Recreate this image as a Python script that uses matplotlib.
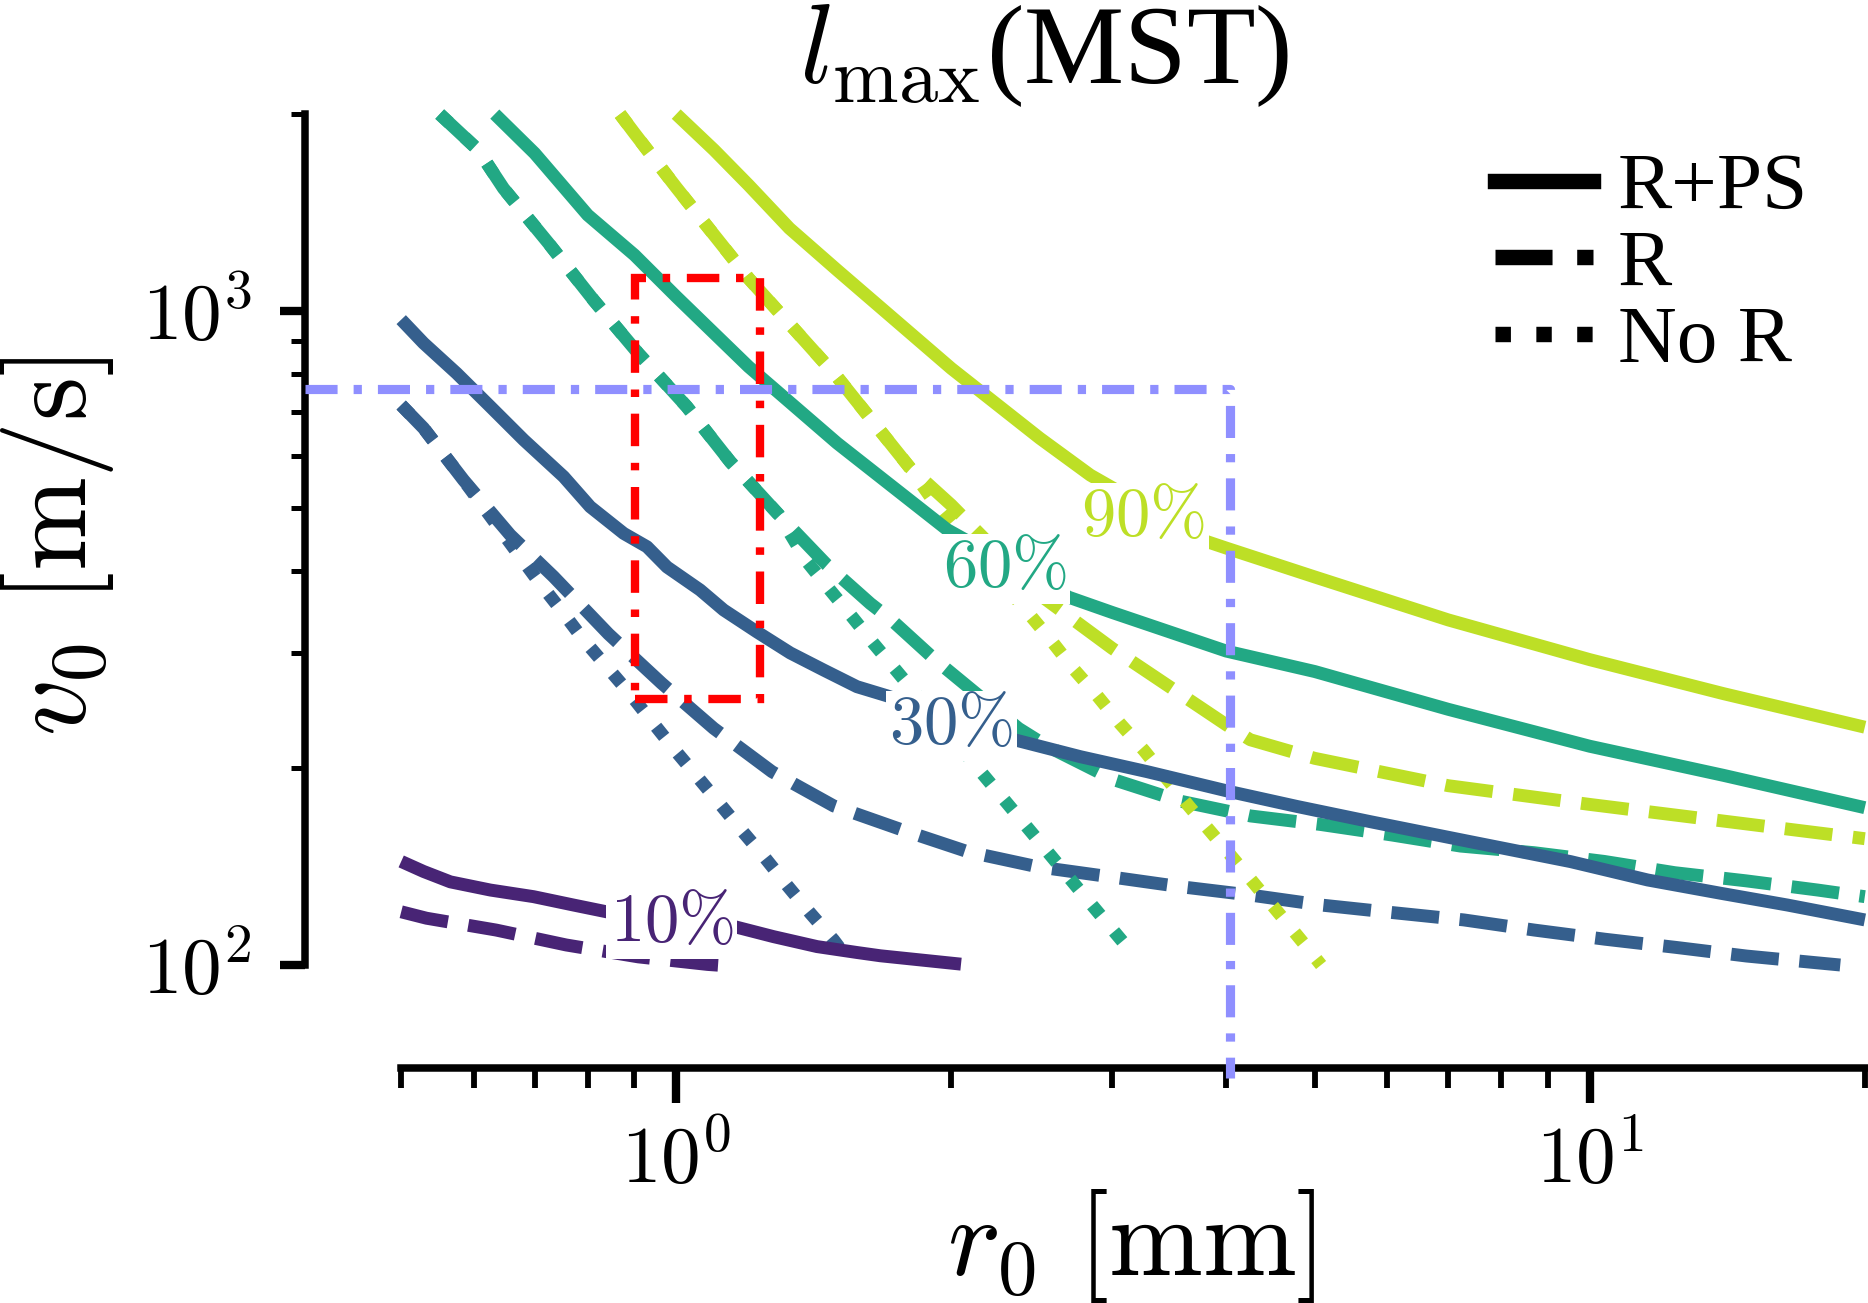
import numpy as np
import matplotlib
matplotlib.use('Agg')
import matplotlib.pyplot as plt
from matplotlib.lines import Line2D
from matplotlib.patches import Rectangle
from matplotlib.ticker import LogLocator, FuncFormatter, NullFormatter

plt.rcParams['mathtext.fontset'] = 'cm'
plt.rcParams['font.family'] = ['Liberation Serif', 'DejaVu Serif']

# ---------------- data (r0 in mm, v0 in m/s) ----------------
levels = ['10%', '30%', '60%', '90%']
level_values = [0.1, 0.3, 0.6, 0.9]

# 10 %
r10_rps = [0.5, 0.529, 0.566, 0.626, 0.698, 0.772, 0.839, 1.16, 1.278, 1.426, 1.577, 1.673, 2.05]
v10_rps = [144, 139, 134, 130.2, 127.2, 123.5, 120.6, 114.4, 110.5, 106.7, 104.5, 103.3, 100.3]
r10_r = [0.5, 0.533, 0.635, 0.758, 0.909, 1.082, 1.15]
v10_r = [120.6, 117.9, 113.1, 107.3, 102.9, 100.2, 99.6]
r10_nor = []
v10_nor = []

# 30 %
r30_rps = [0.5, 0.529, 0.575, 0.626, 0.681, 0.753, 0.805, 0.876, 0.929, 0.977, 1.062, 1.127,
           1.226, 1.333, 1.45, 1.577, 1.701, 2.351, 2.77, 3.278, 4.045, 4.785, 5.755, 7.41,
           9.53, 11.57, 13.92, 16.46, 20]
v30_rps = [970, 893, 803, 714, 635, 558, 502, 457, 436, 406, 374.5, 349,
           323, 300, 282.5, 266.4, 258, 220.8, 208.2, 197.5, 184, 174.7, 165.6, 154.3,
           143.9, 134.9, 128.7, 123.5, 117.2]
r30_r = [0.5, 0.529, 0.585, 0.658, 0.734, 0.843, 0.964, 1.099, 1.273, 1.487, 1.767, 2.085,
         2.487, 2.975, 3.556, 4.253, 5.083, 6.106, 7.28, 8.69, 10.39, 12.42, 14.85, 17.7, 18.8]
v30_r = [718, 662, 551.5, 454.6, 392.5, 320.8, 269.6, 230.1, 197.5, 175.1, 160.9, 149,
         141.3, 136.5, 131.8, 127.9, 123.5, 120.2, 117.2, 113.1, 109.5, 106.4, 103.2, 100.8, 100]
r30_nor = [0.5, 0.529, 0.585, 0.707, 0.748, 0.791, 0.838, 0.889, 0.941, 0.995, 1.053, 1.115,
           1.18, 1.252, 1.324, 1.402, 1.487, 1.557]
v30_nor = [718, 662, 551.5, 385.6, 349, 314.8, 286.6, 260.3, 235.5, 213.7, 194.5, 176.7,
           160.5, 145.6, 132.1, 120, 109.2, 100.3]

# 60 %
r60_rps = [0.633, 0.7, 0.8, 0.9, 1.0, 1.2, 1.5, 1.98, 2.69, 3.0, 4.0, 5.0, 7.0, 10, 14, 20]
v60_rps = [2000, 1742, 1402, 1218, 1052, 822, 628, 463, 365, 346, 302, 281, 246, 216, 195, 174]
r60_r = [0.551, 0.607, 0.647, 0.725, 0.812, 0.909, 1.027, 1.146, 1.295, 1.462, 1.631, 1.72,
         1.92, 2.37, 2.547, 3.013, 3.565, 4.253, 5.075, 6.08, 7.22, 8.69, 10.37, 12.39,
         14.82, 17.76, 20]
v60_r = [2000, 1763, 1540, 1269, 1039, 861, 714, 588, 488, 409, 357, 337,
         293, 230, 216, 192, 178, 169, 164, 158, 152, 148.5, 144, 138.4,
         134.5, 130.2, 127.2]
r60_nor = [0.551, 0.607, 0.647, 0.725, 0.812, 0.909, 1.027, 1.146, 1.295, 1.39, 1.472, 1.557,
           1.645, 1.745, 2.198, 2.467, 2.765, 3.108, 3.15]
v60_nor = [2000, 1763, 1540, 1269, 1039, 861, 714, 588, 488, 414, 375, 341,
           310, 281, 191, 157.5, 130, 107, 104.7]

# 90 %
r90_rps = [1.0, 1.1, 1.2, 1.33, 1.5, 2.0, 2.5, 2.84, 3.81, 4.0, 5.0, 7.0, 10, 14, 20]
v90_rps = [2000, 1763, 1558, 1338, 1155, 817, 639, 561, 444, 434, 392, 337, 293, 260, 231]
r90_r = [0.868, 0.9, 1.0, 1.2, 1.5, 1.8, 2.0, 2.5, 3.0, 4.0, 4.25, 5, 7, 10, 14, 20]
v90_r = [2000, 1870, 1545, 1122, 793, 577, 505, 368, 305, 233, 221, 207, 188, 176, 166, 156]
r90_nor = [0.868, 0.9, 1.0, 1.2, 1.5, 1.8, 1.92, 2.43, 2.58, 2.72, 2.89, 3.06, 3.25, 3.64,
           4.08, 4.59, 4.86, 5.08]
v90_nor = [2000, 1870, 1545, 1122, 793, 577, 508, 345, 312, 284, 258, 234, 213, 175,
           145, 119, 108, 100]

# contour label positions (center, baseline)
label_r = [0.989, 2.0, 2.288, 3.247]
label_v = [109, 218.8, 379.8, 454.6]

# reference point and highlighted region
r_ref, v_ref = 4.04, 760
rect_r = [0.901, 1.234]
rect_v = [255, 1124]

legend_labels = ['R+PS', 'R', 'No R']

# ---------------- figure ----------------
W, H, DPI = 1868, 1303, 300
fig = plt.figure(figsize=(W / DPI, H / DPI), dpi=DPI)
ax_l, ax_r, ax_t, ax_b = 401.2, 1864.8, 114.1, 965.0
ax = fig.add_axes([ax_l / W, 1 - ax_b / H, (ax_r - ax_l) / W, (ax_b - ax_t) / H])
ax.set_xscale('log')
ax.set_yscale('log')
ax.set_xlim(0.5, 20)
ax.set_ylim(100, 2000)

cmap = plt.get_cmap('viridis')
colors = [cmap(v) for v in level_values]

series = {
    'R+PS': [(r10_rps, v10_rps), (r30_rps, v30_rps), (r60_rps, v60_rps), (r90_rps, v90_rps)],
    'R': [(r10_r, v10_r), (r30_r, v30_r), (r60_r, v60_r), (r90_r, v90_r)],
    'No R': [(r10_nor, v10_nor), (r30_nor, v30_nor), (r60_nor, v60_nor), (r90_nor, v90_nor)],
}
styles = {'R+PS': ('-', 2.4), 'R': ('--', 2.0), 'No R': (':', 2.2)}
LW = 3.1
for key in ['R', 'No R', 'R+PS']:
    ls, z = styles[key]
    for (rr, vv), c in zip(series[key], colors):
        if len(rr) == 0:
            continue
        ax.plot(rr, vv, color=c, lw=LW, ls=ls, solid_capstyle='butt',
                dash_capstyle='butt', clip_on=False, zorder=z)

# contour labels with white background
for lab, r, v, c in zip(levels, label_r, label_v, colors):
    ax.text(r, v, '$' + lab.replace('%', r'\%') + '$', color=c, fontsize=16.5,
            ha='center', va='baseline', zorder=5,
            bbox=dict(boxstyle='square,pad=0.05', fc='white', ec='none'))

# spines / ticks
for s in ['top', 'right']:
    ax.spines[s].set_visible(False)
off_left_pt, off_bottom_pt = 23.0, 24.6
ax.spines['left'].set_position(('outward', off_left_pt))
ax.spines['bottom'].set_position(('outward', off_bottom_pt))
ax.spines['left'].set_linewidth(1.8)
ax.spines['bottom'].set_linewidth(1.8)

fmt = FuncFormatter(lambda val, pos: r'$10^{%d}$' % int(round(np.log10(val))))
for axis in (ax.xaxis, ax.yaxis):
    axis.set_major_locator(LogLocator(base=10, numticks=12))
    axis.set_minor_locator(LogLocator(base=10, subs=np.arange(2, 10), numticks=12))
    axis.set_major_formatter(fmt)
    axis.set_minor_formatter(NullFormatter())
ax.tick_params(axis='x', which='major', direction='out', length=8.5, width=2.0, pad=5.4, labelsize=19)
ax.tick_params(axis='x', which='minor', direction='out', length=4.7, width=1.4)
ax.tick_params(axis='y', which='major', direction='out', length=6.1, width=2.0, pad=6.7, labelsize=19)
ax.tick_params(axis='y', which='minor', direction='out', length=3.3, width=1.2)

# reference dash-dot lines from the spines to the point
dec_x = (ax_r - ax_l) / np.log10(20 / 0.5)
dec_y = (ax_b - ax_t) / np.log10(2000 / 100)
x_spine = 0.5 * 10 ** (-(off_left_pt * DPI / 72) / dec_x)
y_spine = 100 * 10 ** (-(off_bottom_pt * DPI / 72 + 11) / dec_y)
ax.plot([x_spine, r_ref, r_ref], [v_ref, v_ref, y_spine], color='#8f8fff', lw=2.2,
        ls=(0, (3.5, 1.75, 0.9, 1.75)), clip_on=False, zorder=4)

# highlighted region
ax.add_patch(Rectangle((rect_r[0], rect_v[0]), rect_r[1] - rect_r[0], rect_v[1] - rect_v[0],
                       fill=False, ec='#ff0000', lw=2.0, ls=(0, (3.9, 2.0, 0.9, 2.0)),
                       zorder=4.5))

# legend
handles = [Line2D([], [], color='k', lw=3.7, ls=s) for s in ['-', '--', ':']]
ax.legend(handles, legend_labels, loc='upper left', bbox_to_anchor=(1495 / W, 1 - 152.5 / H),
          bbox_transform=fig.transFigure, frameon=False, fontsize=19.5, handlelength=1.21,
          handletextpad=0.3, labelspacing=0.03, borderpad=0, borderaxespad=0)

# labels and title
ax.set_xlabel(r'$r_0\ [\mathrm{mm}]$', fontsize=27)
ax.xaxis.set_label_coords(1131.5 / W, 28.3 / H, transform=fig.transFigure)
ax.xaxis.label.set_va('baseline')
ax.set_ylabel(r'$v_0\ [\mathrm{m/s}]$', fontsize=27)
ax.yaxis.set_label_coords(86 / W, 757 / H, transform=fig.transFigure)
ax.yaxis.label.set_rotation_mode('anchor')
ax.yaxis.label.set_ha('center')
ax.yaxis.label.set_va('baseline')
fig.suptitle(r'$l_{\max}$(MST)', x=1044.5 / W, y=1 - 83 / H, ha='center', va='baseline', fontsize=27)

fig.savefig('out.png', dpi=DPI)
